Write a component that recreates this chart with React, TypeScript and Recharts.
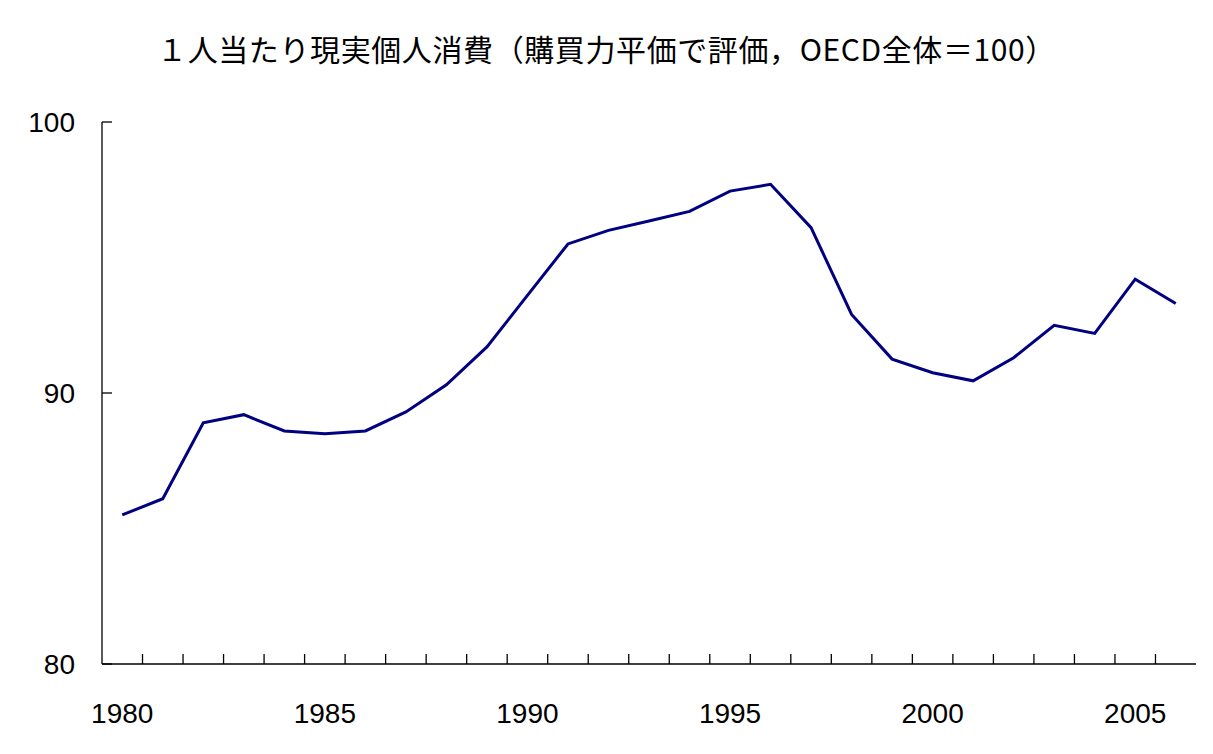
import React from 'react';
import { LineChart, Line, XAxis, YAxis } from 'recharts';

const years = [
  1980, 1981, 1982, 1983, 1984, 1985, 1986, 1987, 1988, 1989,
  1990, 1991, 1992, 1993, 1994, 1995, 1996, 1997, 1998, 1999,
  2000, 2001, 2002, 2003, 2004, 2005, 2006,
];
const consumption = [
  85.5, 86.1, 88.9, 89.2, 88.6, 88.5, 88.6, 89.3, 90.3, 91.7,
  93.6, 95.5, 96.0, 96.35, 96.7, 97.45, 97.7, 96.1, 92.9, 91.25,
  90.75, 90.45, 91.3, 92.5, 92.2, 94.2, 93.3,
];
const labelYears = [1980, 1985, 1990, 1995, 2000, 2005];
const yTicks = [80, 90, 100];

const data = years.map((year, i) => ({ year, value: consumption[i] }));
// tick marks sit between the years, labels only every five years
const xTicks = [...labelYears, ...years.slice(0, -1).map((y) => y + 0.5)].sort((a, b) => a - b);

const labelFont = '"Liberation Sans", Arial, sans-serif';

const XTick = (props: any) => {
  const { x, y, payload } = props;
  const v = payload.value;
  if (Number.isInteger(v)) {
    return (
      <text x={x} y={y + 59} textAnchor="middle" fontSize={28} fontFamily={labelFont} fill="#000">
        {v}
      </text>
    );
  }
  return <line x1={x} x2={x} y1={y} y2={y - 10} stroke="#000" strokeWidth={1.3} />;
};

const YTick = (props: any) => {
  const { x, y, payload } = props;
  return (
    <g>
      <line x1={x} x2={x + 10} y1={y} y2={y} stroke="#000" strokeWidth={1.3} />
      <text x={x - 27} y={y + 10} textAnchor="end" fontSize={28} fontFamily={labelFont} fill="#000">
        {payload.value}
      </text>
    </g>
  );
};

export default function App() {
  return (
    <div style={{ position: 'absolute', left: 0, top: 0, width: 1213, height: 754, background: '#fff' }}>
      <div
        style={{
          position: 'absolute',
          top: 26,
          left: 0,
          width: 1213,
          textAlign: 'center',
          fontFamily: '"Noto Sans CJK JP", sans-serif',
          fontSize: 30,
          letterSpacing: 0.6,
          color: '#000',
          whiteSpace: 'nowrap',
        }}
      >
        １人当たり現実個人消費（購買力平価で評価，OECD全体＝100）
      </div>
      <LineChart
        width={1213}
        height={754}
        data={data}
        margin={{ top: 122, right: 17, left: 0, bottom: 0 }}
        style={{ position: 'absolute', left: 0, top: 0 }}
      >
        <XAxis
          dataKey="year"
          type="number"
          domain={[1979.5, 2006.5]}
          ticks={xTicks}
          interval={0}
          height={90}
          tickLine={false}
          tickSize={0}
          tickMargin={0}
          tick={<XTick />}
          axisLine={{ stroke: '#000', strokeWidth: 1.3 }}
        />
        <YAxis
          type="number"
          domain={[80, 100]}
          ticks={yTicks}
          interval={0}
          width={102}
          tickLine={false}
          tickSize={0}
          tickMargin={0}
          tick={<YTick />}
          axisLine={{ stroke: '#000', strokeWidth: 1.3 }}
        />
        <Line
          type="linear"
          dataKey="value"
          stroke="#000080"
          strokeWidth={3}
          dot={false}
          isAnimationActive={false}
        />
      </LineChart>
    </div>
  );
}
